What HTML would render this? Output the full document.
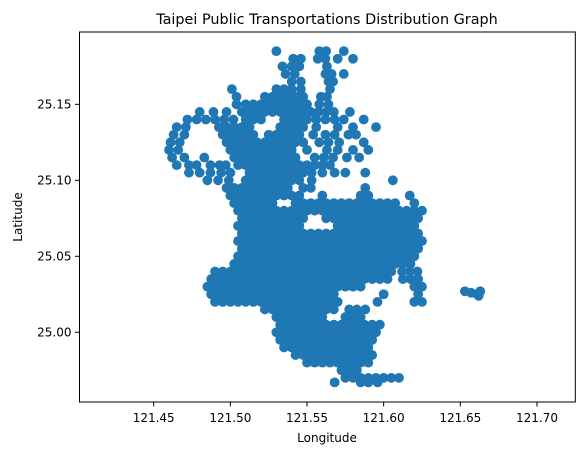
<!DOCTYPE html>
<html><head><meta charset="utf-8"><style>
body{margin:0;background:#fff;}
svg{display:block;font-family:"DejaVu Sans","Liberation Sans",sans-serif;}
</style></head><body>
<svg id="chart" width="584" height="455" viewBox="0 0 584 455" xmlns="http://www.w3.org/2000/svg">
<rect x="0" y="0" width="584" height="455" fill="#fff"/>
<text x="327" y="24" text-anchor="middle" font-size="14.4" fill="#000">Taipei Public Transportations Distribution Graph</text>
<g id="points"></g>
<g id="axes"></g>
<text x="327" y="442" text-anchor="middle" font-size="12">Longitude</text>
<text x="22" y="217" text-anchor="middle" font-size="12" transform="rotate(-90 22 217)">Latitude</text>
</svg>
<script>
const xTicks=[121.45,121.50,121.55,121.60,121.65,121.70];
const xTickLabels=["121.45","121.50","121.55","121.60","121.65","121.70"];
const yTicks=[25.00,25.05,25.10,25.15];
const yTickLabels=["25.00","25.05","25.10","25.15"];
const rowLat=[25.185,25.180,25.175,25.170,25.165,25.160,25.155,25.150,25.145,25.140,25.135,25.130,25.125,25.120,25.115,25.110,25.105,25.100,25.095,25.090,25.085,25.080,25.075,25.070,25.065,25.060,25.055,25.050,25.045,25.040,25.035,25.030,25.025,25.020,25.015,25.010,25.005,25.000,24.995,24.990,24.985,24.980,24.975,24.970,24.967];
const rowLons=[
[121.530,121.558,121.5625,121.574],
[121.541,121.546,121.557,121.562,121.570,121.580],
[121.534,121.540,121.545,121.563],
[121.536,121.542,121.562,121.566,121.574],
[121.540,121.546,121.564,121.567],
[121.501,121.530,121.535,121.540,121.546,121.565],
[121.504,121.5225,121.5275,121.5325,121.5375,121.5425,121.5475,121.559,121.563],
[121.504,121.510,121.515,121.520,121.525,121.530,121.535,121.540,121.545,121.550,121.558,121.564],
[121.480,121.489,121.4975,121.5075,121.5125,121.5175,121.5225,121.5275,121.5325,121.5375,121.5425,121.5475,121.5525,121.5575,121.5625,121.5675,121.578],
[121.472,121.478,121.484,121.490,121.496,121.502,121.510,121.515,121.520,121.535,121.540,121.545,121.550,121.556,121.562,121.568,121.574,121.587],
[121.465,121.471,121.4925,121.4975,121.5025,121.5075,121.5125,121.5325,121.5375,121.5425,121.5475,121.556,121.570,121.580,121.595],
[121.463,121.470,121.495,121.500,121.505,121.510,121.515,121.525,121.530,121.535,121.540,121.545,121.554,121.562,121.568,121.577,121.582],
[121.461,121.467,121.4975,121.5025,121.5075,121.5125,121.5175,121.5225,121.5275,121.5325,121.5375,121.5425,121.5475,121.558,121.564,121.571,121.587],
[121.460,121.466,121.500,121.505,121.510,121.515,121.520,121.525,121.530,121.535,121.540,121.550,121.563,121.570,121.580,121.590],
[121.462,121.470,121.483,121.5025,121.5075,121.5125,121.5175,121.5225,121.5275,121.5325,121.5375,121.5425,121.555,121.561,121.567,121.576,121.584],
[121.465,121.473,121.478,121.487,121.493,121.497,121.505,121.510,121.515,121.520,121.525,121.530,121.535,121.540,121.545,121.550,121.555,121.560,121.565],
[121.473,121.480,121.487,121.494,121.500,121.5125,121.5175,121.5225,121.5275,121.5325,121.5375,121.5425,121.5475,121.553,121.560,121.568,121.575,121.588],
[121.485,121.492,121.499,121.510,121.515,121.520,121.525,121.530,121.535,121.540,121.545,121.553,121.606],
[121.4975,121.5025,121.5075,121.5125,121.5175,121.5225,121.5275,121.5325,121.5375,121.5475,121.5525,121.588],
[121.500,121.505,121.510,121.515,121.520,121.525,121.530,121.535,121.540,121.545,121.560,121.585,121.590,121.617],
[121.5025,121.5075,121.5125,121.5175,121.5225,121.5275,121.5425,121.5475,121.5525,121.5575,121.5625,121.5675,121.5725,121.5775,121.5825,121.5875,121.5925,121.5975,121.6025,121.6075,121.620],
[121.505,121.510,121.515,121.520,121.525,121.530,121.535,121.540,121.545,121.550,121.555,121.560,121.565,121.570,121.575,121.580,121.585,121.590,121.595,121.600,121.605,121.610,121.615,121.620,121.625],
[121.5075,121.5125,121.5175,121.5225,121.5275,121.5325,121.5375,121.5425,121.5475,121.5625,121.5675,121.5725,121.5775,121.5825,121.5875,121.5925,121.5975,121.6025,121.6075,121.6125,121.6175,121.6225],
[121.505,121.510,121.515,121.520,121.525,121.530,121.535,121.540,121.545,121.570,121.575,121.580,121.585,121.590,121.595,121.600,121.605,121.610,121.615,121.620],
[121.5075,121.5125,121.5175,121.5225,121.5275,121.5325,121.5375,121.5425,121.5475,121.5525,121.5575,121.5625,121.5675,121.5725,121.5775,121.5825,121.5875,121.5925,121.5975,121.6025,121.6075,121.6125,121.6175,121.6225],
[121.505,121.510,121.515,121.520,121.525,121.530,121.535,121.540,121.545,121.550,121.555,121.560,121.565,121.570,121.575,121.580,121.585,121.590,121.595,121.600,121.605,121.610,121.615,121.620,121.625],
[121.5075,121.5125,121.5175,121.5225,121.5275,121.5325,121.5375,121.5425,121.5475,121.5525,121.5575,121.5625,121.5675,121.5725,121.5775,121.5825,121.5875,121.5925,121.5975,121.6025,121.6075,121.6125,121.6175,121.6225],
[121.505,121.510,121.515,121.520,121.525,121.530,121.535,121.540,121.545,121.550,121.555,121.560,121.565,121.570,121.575,121.580,121.585,121.590,121.595,121.600,121.605,121.610,121.615,121.620],
[121.5025,121.5075,121.5125,121.5175,121.5225,121.5275,121.5325,121.5375,121.5425,121.5475,121.5525,121.5575,121.5625,121.5675,121.5725,121.5775,121.5825,121.5875,121.5925,121.5975,121.6025,121.6075,121.6125,121.6175],
[121.490,121.495,121.500,121.505,121.510,121.515,121.520,121.525,121.530,121.535,121.540,121.545,121.550,121.555,121.560,121.565,121.570,121.575,121.580,121.585,121.590,121.595,121.600,121.605,121.612,121.617,121.622],
[121.4875,121.4925,121.4975,121.5025,121.5075,121.5125,121.5175,121.5225,121.5275,121.5325,121.5375,121.5425,121.5475,121.5525,121.5575,121.5625,121.5675,121.5725,121.5775,121.5825,121.5875,121.5925,121.5975,121.6025,121.6125,121.6175,121.6225],
[121.485,121.490,121.495,121.500,121.505,121.510,121.515,121.520,121.525,121.530,121.535,121.540,121.545,121.550,121.555,121.560,121.565,121.570,121.575,121.580,121.585,121.620,121.625],
[121.4875,121.4925,121.4975,121.5025,121.5075,121.5125,121.5175,121.5225,121.5275,121.5325,121.5375,121.5425,121.5475,121.5525,121.5575,121.5625,121.5675,121.600,121.6225],
[121.490,121.495,121.500,121.505,121.510,121.515,121.520,121.525,121.530,121.535,121.540,121.545,121.550,121.555,121.560,121.565,121.570,121.596,121.620,121.625],
[121.5225,121.5275,121.5325,121.5375,121.5425,121.5475,121.5525,121.5575,121.5625,121.5675,121.5775,121.5825,121.588],
[121.530,121.535,121.540,121.545,121.550,121.555,121.560,121.575,121.580,121.585],
[121.5325,121.5375,121.5425,121.5475,121.5525,121.5575,121.5625,121.5675,121.5725,121.5775,121.5825,121.5875,121.5925,121.5975],
[121.530,121.535,121.540,121.545,121.550,121.555,121.560,121.565,121.570,121.575,121.580,121.585,121.590,121.595],
[121.5325,121.5375,121.5425,121.5475,121.5525,121.5575,121.5625,121.5675,121.5725,121.5775,121.5825,121.5875,121.5925],
[121.535,121.540,121.545,121.550,121.555,121.560,121.565,121.570,121.575,121.580,121.585,121.590],
[121.5425,121.5475,121.5525,121.5575,121.5625,121.5675,121.5725,121.5775,121.5825,121.5875,121.5925],
[121.550,121.555,121.560,121.565,121.570,121.575,121.580,121.585,121.590],
[121.5725,121.5775,121.5825],
[121.575,121.580,121.585,121.590,121.595,121.600,121.605,121.610],
[121.568,121.585,121.590,121.596]
];
const islandLons=[121.653,121.657,121.661,121.663,121.662];
const islandLats=[25.027,25.026,25.025,25.027,25.024];

const L=79.5,R=575.3,T=32,B=402;
const xMin=121.4016,xMax=121.7250,yMin=24.9541,yMax=25.1976;
function xs(v){return L+(v-xMin)/(xMax-xMin)*(R-L);}
function ys(v){return B-(v-yMin)/(yMax-yMin)*(B-T);}
const NS="http://www.w3.org/2000/svg";
const pg=document.getElementById('points');
function dot(lon,lat){
  const c=document.createElementNS(NS,'circle');
  c.setAttribute('cx',xs(lon).toFixed(2));
  c.setAttribute('cy',ys(lat).toFixed(2));
  c.setAttribute('r','4.9');
  c.setAttribute('fill','#1f77b4');
  
  
  pg.appendChild(c);
}
rowLat.forEach((lat,i)=>{rowLons[i].forEach(lon=>dot(lon,lat));});
islandLons.forEach((lon,i)=>dot(lon,islandLats[i]));

const ax=document.getElementById('axes');
const frame=document.createElementNS(NS,'rect');
frame.setAttribute('x',L);frame.setAttribute('y',T);
frame.setAttribute('width',R-L);frame.setAttribute('height',B-T);
frame.setAttribute('fill','none');frame.setAttribute('stroke','#000');frame.setAttribute('stroke-width','1');


ax.appendChild(frame);
xTicks.forEach((v,i)=>{
  const x=xs(v);
  const t=document.createElementNS(NS,'line');
  t.setAttribute('x1',x);t.setAttribute('x2',x);t.setAttribute('y1',B);t.setAttribute('y2',B+4.5);
  t.setAttribute('stroke','#000');
  
  
  ax.appendChild(t);
  const s=document.createElementNS(NS,'text');
  s.setAttribute('x',x);s.setAttribute('y',B+20);s.setAttribute('text-anchor','middle');s.setAttribute('font-size','12');
  s.textContent=xTickLabels[i];
  
  
  ax.appendChild(s);
});
yTicks.forEach((v,i)=>{
  const y=ys(v);
  const t=document.createElementNS(NS,'line');
  t.setAttribute('x1',L-4.5);t.setAttribute('x2',L);t.setAttribute('y1',y);t.setAttribute('y2',y);
  t.setAttribute('stroke','#000');
  
  
  ax.appendChild(t);
  const s=document.createElementNS(NS,'text');
  s.setAttribute('x',L-8);s.setAttribute('y',y+4.3);s.setAttribute('text-anchor','end');s.setAttribute('font-size','12');
  s.textContent=yTickLabels[i];
  
  
  ax.appendChild(s);
});
</script>
</body></html>
